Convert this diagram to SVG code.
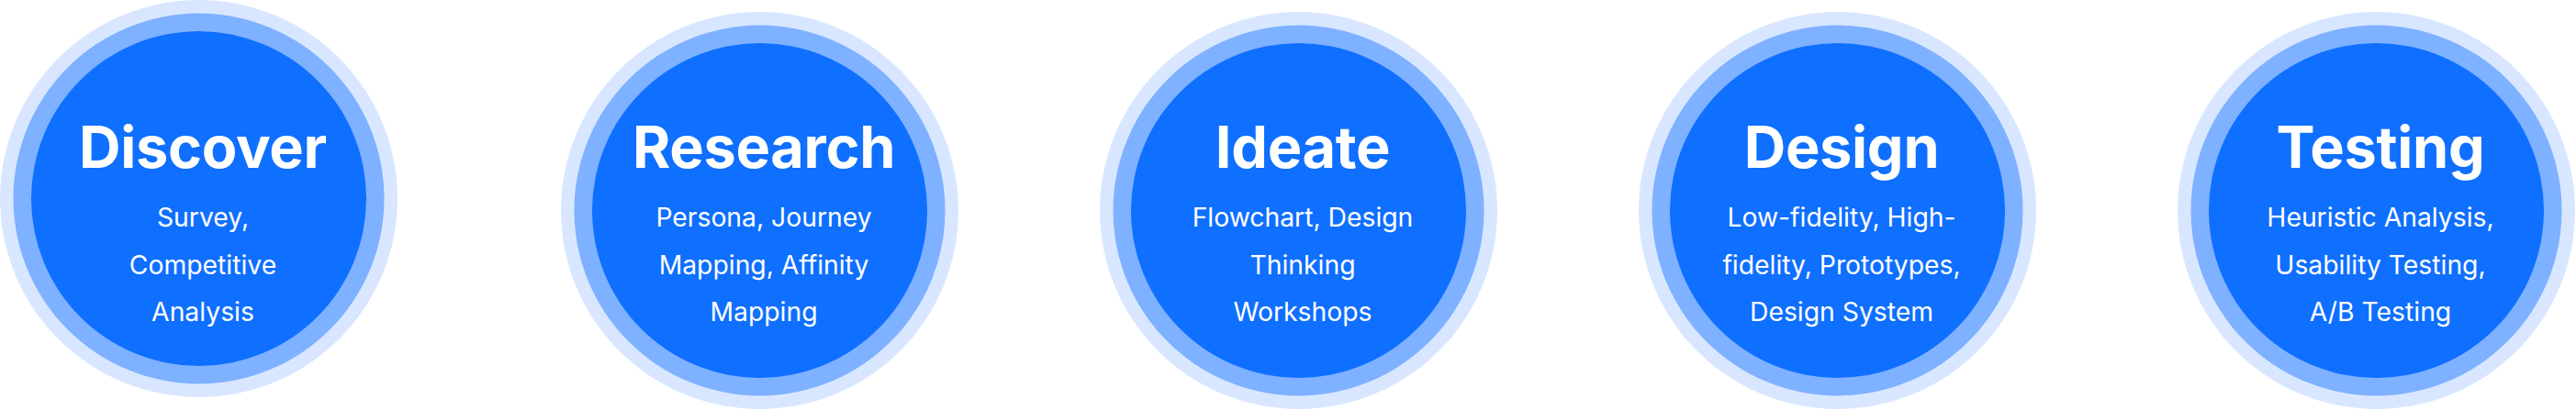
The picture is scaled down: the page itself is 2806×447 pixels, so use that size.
<svg xmlns="http://www.w3.org/2000/svg" width="2806" height="447" viewBox="0 0 2806 447">
<style>
.o{fill:#D8E7FF}.m{fill:#7EB1FF}.i{fill:#0F6FFF}
.t{font-family:Inter,"Noto Sans",sans-serif;font-weight:700;font-size:63px;letter-spacing:-0.3px;fill:#fff;text-anchor:middle}
.s{font-family:Inter,"Noto Sans",sans-serif;font-weight:400;font-size:28.3px;fill:#fff;text-anchor:middle}
</style>
<rect width="2806" height="447" fill="#fff"/>
<g id="discover">
<circle class="o" cx="216.5" cy="216.5" r="216.5"/><circle class="m" cx="216.5" cy="216.5" r="202"/><circle class="i" cx="216.5" cy="216.5" r="182.5"/>
<text class="t" x="221" y="183">Discover</text>
<text class="s" x="221" y="247">Survey,</text><text class="s" x="221" y="298.5">Competitive</text><text class="s" x="221" y="350">Analysis</text>
</g>
<g id="research">
<circle class="o" cx="827.5" cy="229.5" r="216.5"/><circle class="m" cx="827.5" cy="229.5" r="202"/><circle class="i" cx="827.5" cy="229.5" r="182.5"/>
<text class="t" x="832" y="183">Research</text>
<text class="s" x="832" y="247">Persona, Journey</text><text class="s" x="832" y="298.5">Mapping, Affinity</text><text class="s" x="832" y="350">Mapping</text>
</g>
<g id="ideate">
<circle class="o" cx="1414.5" cy="229.5" r="216.5"/><circle class="m" cx="1414.5" cy="229.5" r="202"/><circle class="i" cx="1414.5" cy="229.5" r="182.5"/>
<text class="t" x="1419" y="183">Ideate</text>
<text class="s" x="1419" y="247">Flowchart, Design</text><text class="s" x="1419" y="298.5">Thinking</text><text class="s" x="1419" y="350">Workshops</text>
</g>
<g id="design">
<circle class="o" cx="2001.5" cy="229.5" r="216.5"/><circle class="m" cx="2001.5" cy="229.5" r="202"/><circle class="i" cx="2001.5" cy="229.5" r="182.5"/>
<text class="t" x="2006" y="183">Design</text>
<text class="s" x="2006" y="247">Low-fidelity, High-</text><text class="s" x="2006" y="298.5">fidelity, Prototypes,</text><text class="s" x="2006" y="350">Design System</text>
</g>
<g id="testing">
<circle class="o" cx="2588.5" cy="229.5" r="216.5"/><circle class="m" cx="2588.5" cy="229.5" r="202"/><circle class="i" cx="2588.5" cy="229.5" r="182.5"/>
<text class="t" x="2593" y="183">Testing</text>
<text class="s" x="2593" y="247">Heuristic Analysis,</text><text class="s" x="2593" y="298.5">Usability Testing,</text><text class="s" x="2593" y="350">A/B Testing</text>
</g>
<g id="connectors"/>
</svg>
